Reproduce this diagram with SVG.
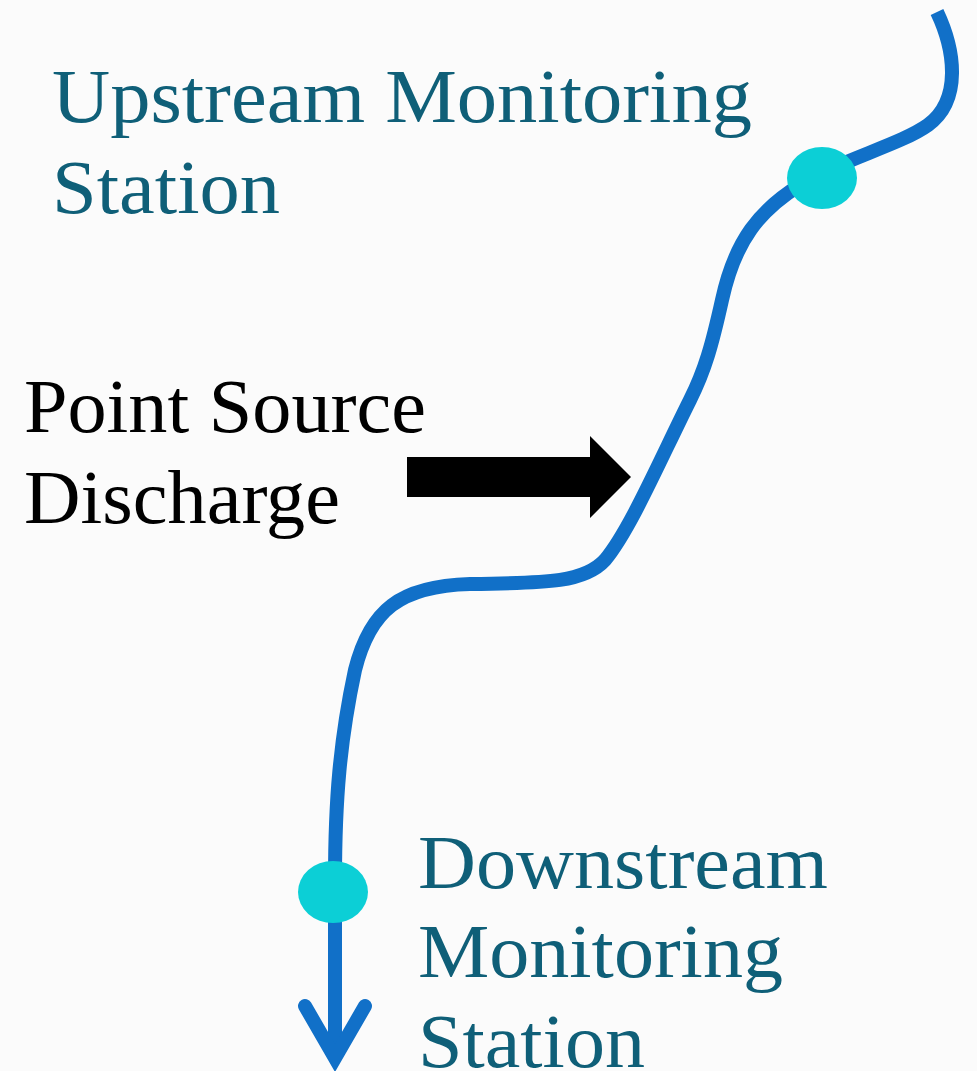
<svg xmlns="http://www.w3.org/2000/svg" width="977" height="1071" viewBox="0 0 977 1071">
<style>
.lbl{font-family:"Liberation Serif","Times New Roman",serif;font-size:76px}
.teal{fill:#0f5f78}
.blk{fill:#000}
.river{fill:none;stroke:#1170c8;stroke-width:14}
.dot{fill:#0ccfd6}
</style>
<rect width="977" height="1071" fill="#fbfbfb"/>
<g id="connectors">
<path class="river" d="M 937 12 C 955 50, 962 100, 928 125 C 900 145, 840 160, 800 185 C 760 210, 735 240, 722 300 C 712 345, 705 370, 690 400 C 660 460, 630 530, 605 560 C 585 582, 550 583, 470 584 C 400 586, 370 610, 355 670 C 340 740, 335 800, 335 880 L 335 1050"/>
<polyline class="river" points="305,1006 335,1058 365,1006" stroke-linecap="round" stroke-linejoin="miter"/>
<polygon id="discharge-arrow" class="blk" points="407,457 590,457 590,436 631,477 590,518 590,497 407,497"/>
</g>
<g id="upstream-station">
<ellipse class="dot" cx="822" cy="178" rx="35" ry="31"/>
<text class="lbl teal" x="52" y="122" textLength="700" lengthAdjust="spacingAndGlyphs">Upstream Monitoring</text>
<text class="lbl teal" x="52" y="213" textLength="228" lengthAdjust="spacingAndGlyphs">Station</text>
</g>
<g id="point-source">
<text class="lbl blk" x="24" y="432" textLength="402" lengthAdjust="spacingAndGlyphs">Point Source</text>
<text class="lbl blk" x="24" y="523" textLength="316" lengthAdjust="spacingAndGlyphs">Discharge</text>
</g>
<g id="downstream-station">
<ellipse class="dot" cx="333" cy="892" rx="35" ry="31"/>
<text class="lbl teal" x="418" y="888" textLength="410" lengthAdjust="spacingAndGlyphs">Downstream</text>
<text class="lbl teal" x="418" y="977" textLength="365" lengthAdjust="spacingAndGlyphs">Monitoring</text>
<text class="lbl teal" x="418" y="1067" textLength="227" lengthAdjust="spacingAndGlyphs">Station</text>
</g>
</svg>
